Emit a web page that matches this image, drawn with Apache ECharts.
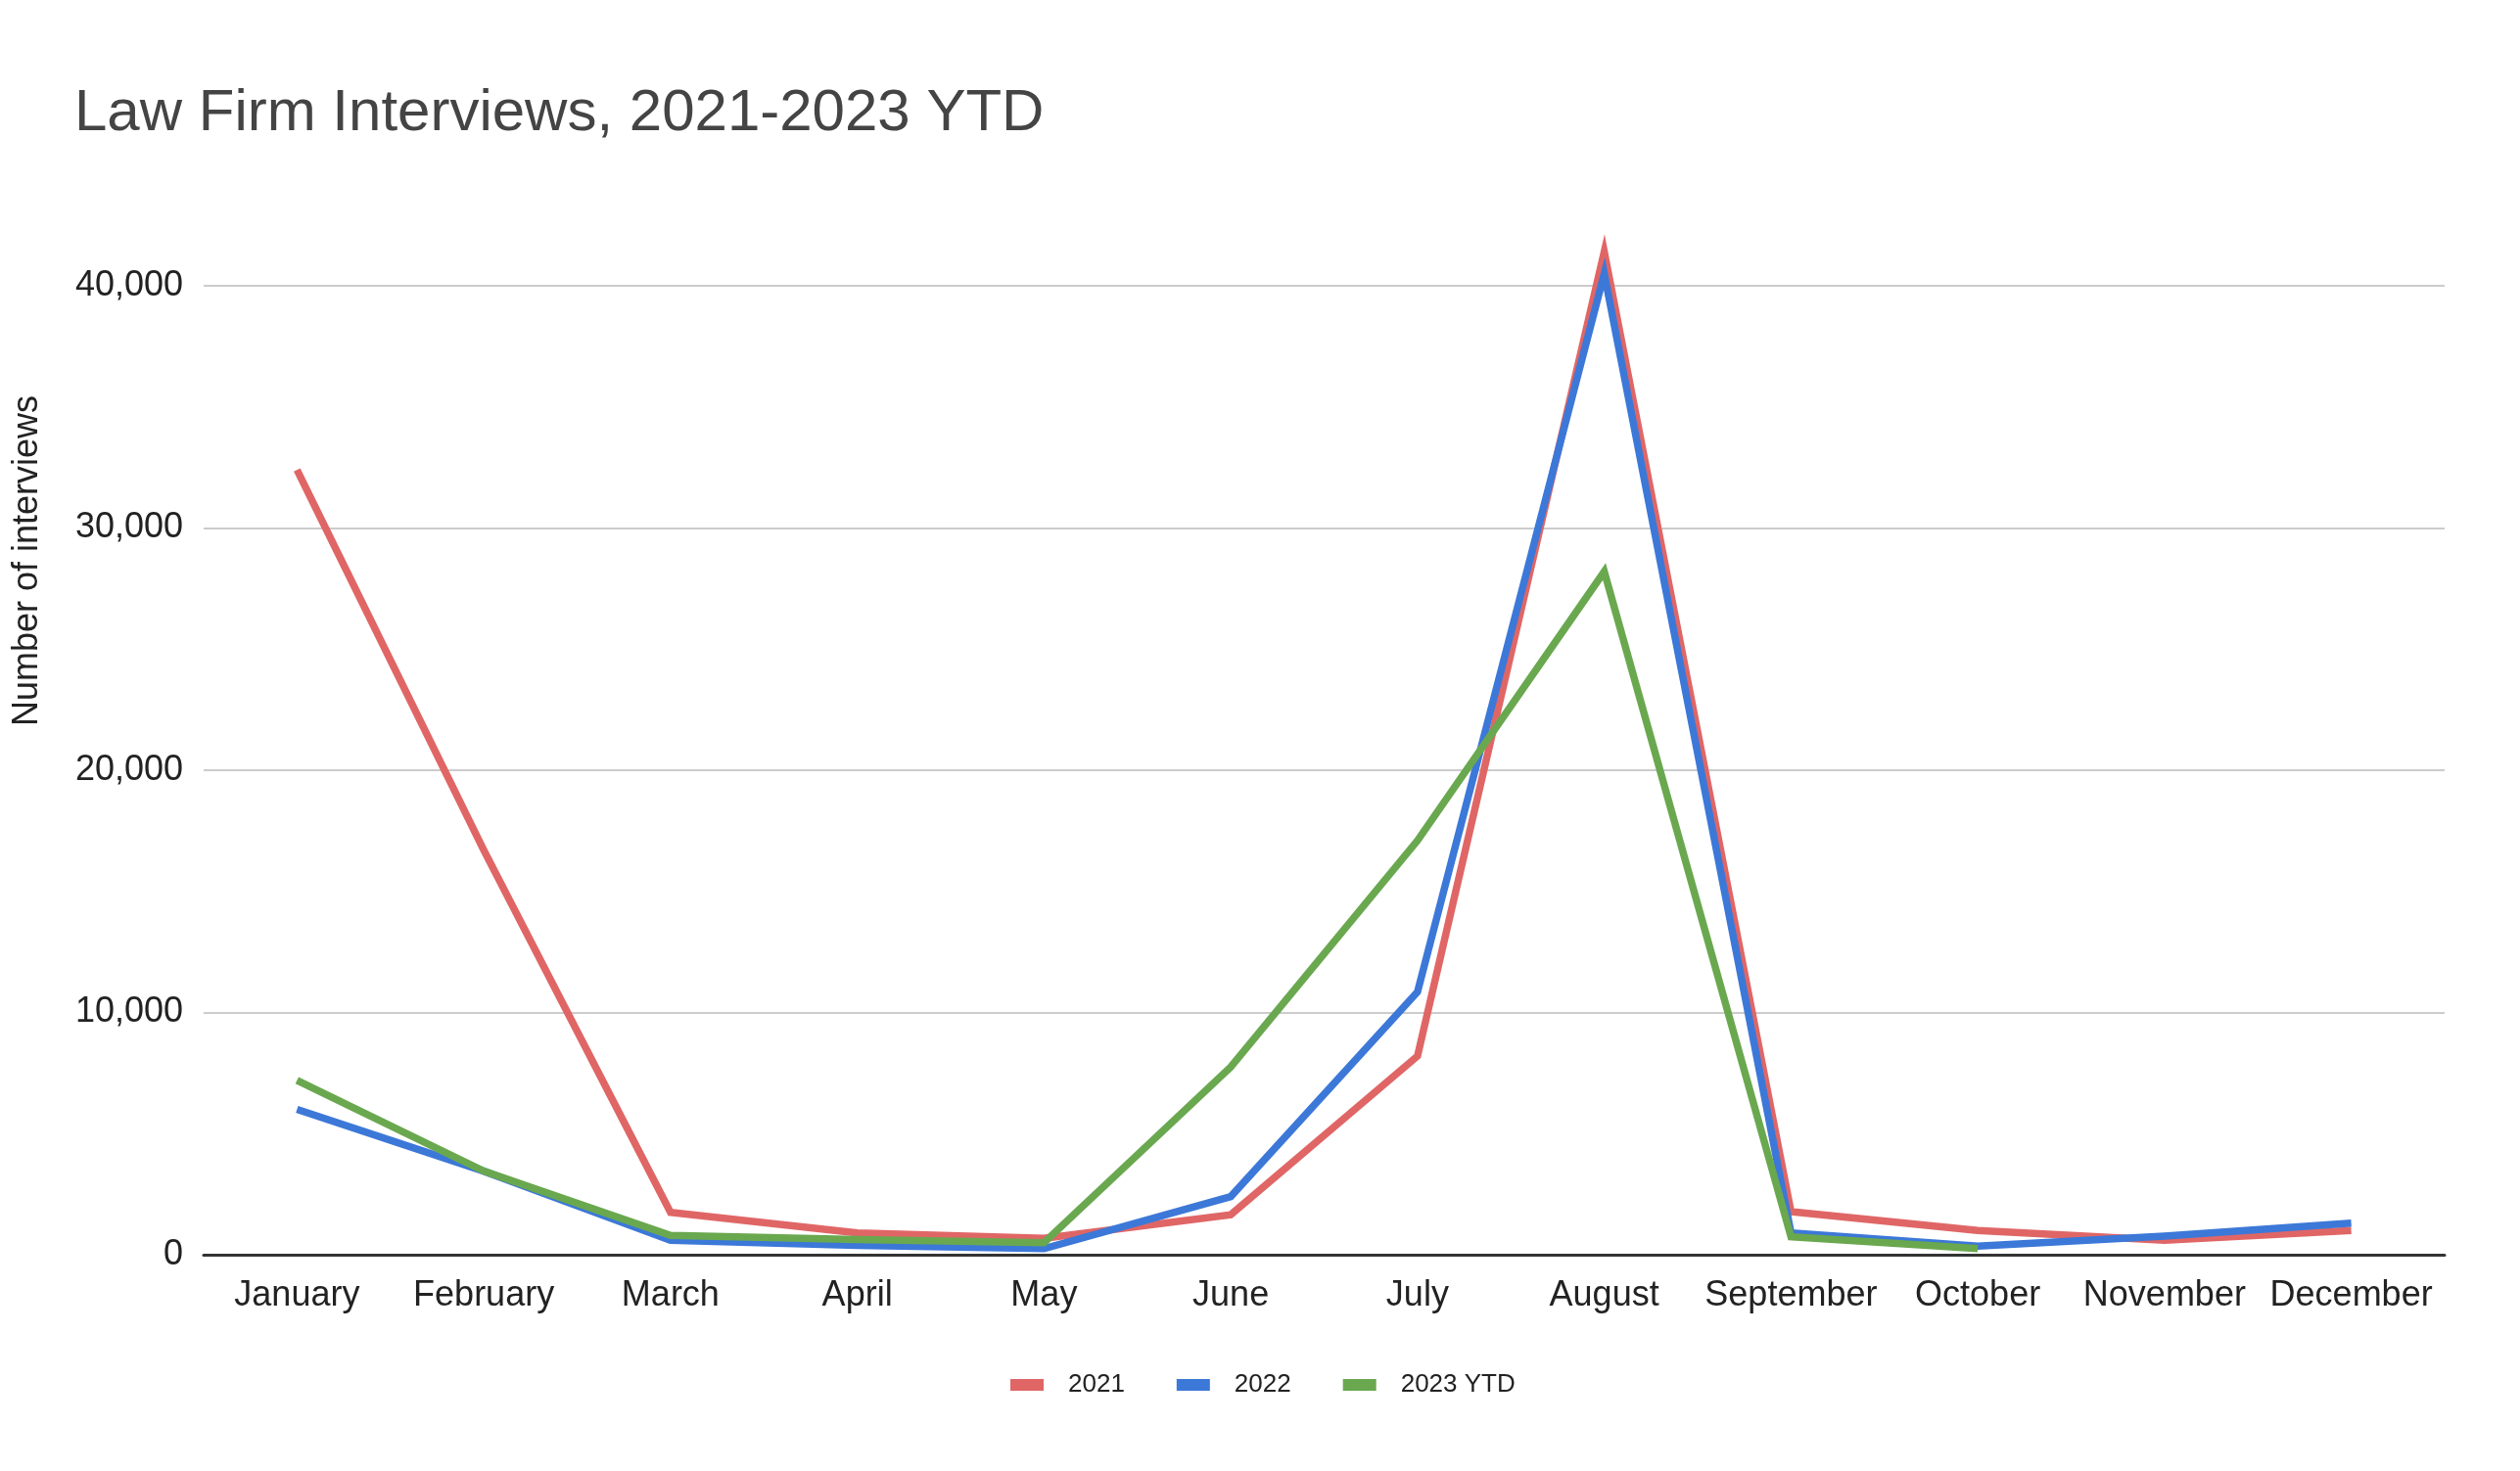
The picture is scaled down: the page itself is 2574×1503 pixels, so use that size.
<!DOCTYPE html>
<html>
<head>
<meta charset="utf-8">
<script src="https://cdn.jsdelivr.net/npm/echarts@6/dist/echarts.min.js"></script>
<style>
html,body{margin:0;padding:0;background:#fff;}
#chart{width:2574px;height:1503px;}
</style>
</head>
<body>
<div id="chart"></div>
<script>
const months = ["January","February","March","April","May","June","July","August","September","October","November","December"];
const seriesNames = ["2021","2022","2023 YTD"];
const values2021 = [32400, 16700, 1750, 900, 680, 1650, 8200, 41400, 1780, 1000, 600, 1000];
const values2022 = [6000, 3450, 600, 380, 250, 2400, 10850, 40500, 900, 350, 770, 1300];
const values2023 = [7200, 3450, 800, 630, 500, 7750, 17100, 28200, 740, 250, null, null];
const yTicks = [0, 10000, 20000, 30000, 40000];
const colors = ["#e06666", "#3c78d8", "#6aa84f"];

const FONT = '"Liberation Sans", Arial, sans-serif';
const chart = echarts.init(document.getElementById('chart'), null, {renderer: 'canvas'});

function lineSeries(name, data, color) {
  return {
    name: name,
    type: 'line',
    data: data,
    showSymbol: false,
    symbol: 'none',
    clip: false,
    connectNulls: false,
    color: color,
    lineStyle: {color: color, width: 7.5, join: 'miter', miterLimit: 10, cap: 'butt'},
    emphasis: {disabled: true}
  };
}

chart.setOption({
  animation: false,
  backgroundColor: '#fff',
  textStyle: {fontFamily: FONT},
  title: {
    text: 'Law Firm Interviews, 2021-2023 YTD',
    left: 71,
    top: 81,
    textStyle: {fontFamily: FONT, fontSize: 60, fontWeight: 'normal', color: '#444444'}
  },
  legend: {
    left: 1027,
    top: 1397,
    icon: 'rect',
    itemWidth: 34,
    itemHeight: 12,
    itemGap: 53,
    textStyle: {fontFamily: FONT, fontSize: 26, color: '#222222', padding: [0, 0, 0, 20]},
    data: seriesNames
  },
  grid: {left: 208, right: 77, top: 292, bottom: 221, containLabel: false},
  xAxis: {
    type: 'category',
    data: months,
    boundaryGap: true,
    axisLine: {show: true, lineStyle: {color: '#333333', width: 3}},
    axisTick: {show: false},
    axisLabel: {fontFamily: FONT, fontSize: 36, color: '#222222', margin: 24, interval: 0}
  },
  yAxis: {
    type: 'value',
    min: yTicks[0],
    max: yTicks[yTicks.length - 1],
    interval: yTicks[1] - yTicks[0],
    axisLine: {show: false},
    axisTick: {show: false},
    splitLine: {show: true, lineStyle: {color: '#cccccc', width: 2}},
    axisLabel: {
      fontFamily: FONT, fontSize: 36, color: '#222222', margin: 21,
      formatter: v => v.toLocaleString('en-US')
    }
  },
  graphic: [{
    type: 'text',
    x: 28,
    y: 573,
    rotation: Math.PI / 2,
    style: {
      text: 'Number of interviews',
      font: '36px ' + FONT,
      fill: '#222222',
      align: 'center',
      verticalAlign: 'middle'
    }
  }],
  series: [
    lineSeries(seriesNames[0], values2021, colors[0]),
    lineSeries(seriesNames[1], values2022, colors[1]),
    lineSeries(seriesNames[2], values2023, colors[2])
  ]
});
</script>
</body>
</html>
